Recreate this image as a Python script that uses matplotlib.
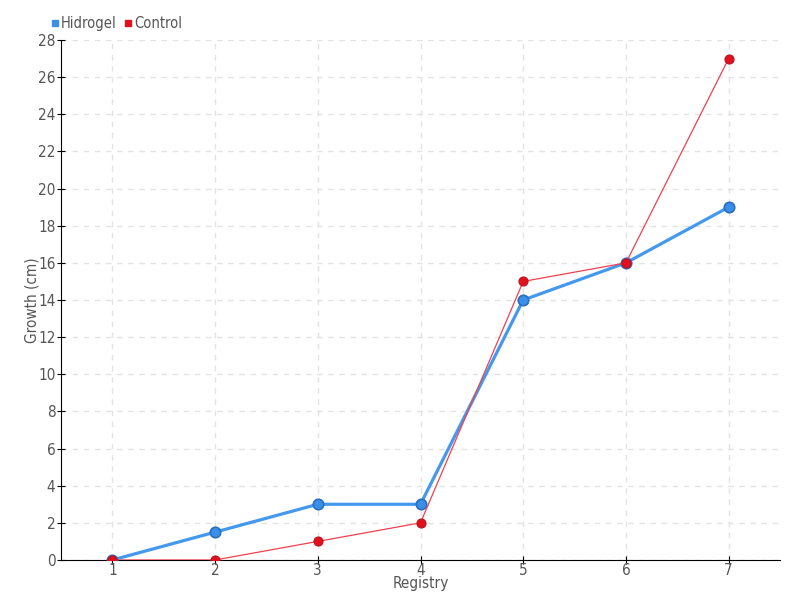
import matplotlib
matplotlib.use("Agg")
import matplotlib.pyplot as plt

registry = [1, 2, 3, 4, 5, 6, 7]
hidrogel = [0, 1.5, 3, 3, 14, 16, 19]
control = [0, 0, 1, 2, 15, 16, 27]
y_ticks = list(range(0, 29, 2))

plt.rcParams['font.family'] = ['DejaVu Sans']
plt.rcParams['font.stretch'] = 'condensed'

fig = plt.figure(figsize=(8, 6), dpi=100)
ax = fig.add_axes([0.07625, 0.0667, 0.89875, 0.8666])

ax.plot(registry, hidrogel, color='#4499ee', lw=2.3, marker='o', ms=7.5,
        mfc='#3a8fe8', mec='#2a6fc0', mew=1.2, label='Hidrogel', zorder=3)
ax.plot(registry, control, color='#f0404f', lw=0.9, marker='o', ms=6.5,
        mfc='#e0101e', mec='#c0101a', mew=0.8, label='Control', zorder=4)

ax.set_xlim(0.5, 7.5)
ax.set_ylim(0, 28)
ax.set_xticks(registry)
ax.set_yticks(y_ticks)
ax.grid(True, color='#e3e3e3', ls=(0, (4, 4)), lw=1)
ax.set_axisbelow(True)
for s in ['top', 'right']:
    ax.spines[s].set_visible(False)
ax.tick_params(direction='inout', length=6, pad=1, labelsize=11, colors='#555555')
ax.tick_params(axis='x', pad=-1)
ax.tick_params(axis='both', color='black')
ax.set_xlabel('Registry', fontsize=11, color='#555555', labelpad=-1)
ax.set_ylabel('Growth (cm)', fontsize=11, color='#555555', labelpad=-1)

ax.legend(loc='lower left', bbox_to_anchor=(-0.022, 1.006), ncol=2, frameon=False,
          handlelength=0.5, handletextpad=0.2, columnspacing=0.5,
          fontsize=10.5, labelcolor='#555555', borderaxespad=0,
          handles=[plt.Line2D([], [], ls='', marker='s', ms=4.5, color='#3a8fe8'),
                   plt.Line2D([], [], ls='', marker='s', ms=4.5, color='#e0101e')],
          labels=['Hidrogel', 'Control'])

fig.savefig('out.png', dpi=100)
